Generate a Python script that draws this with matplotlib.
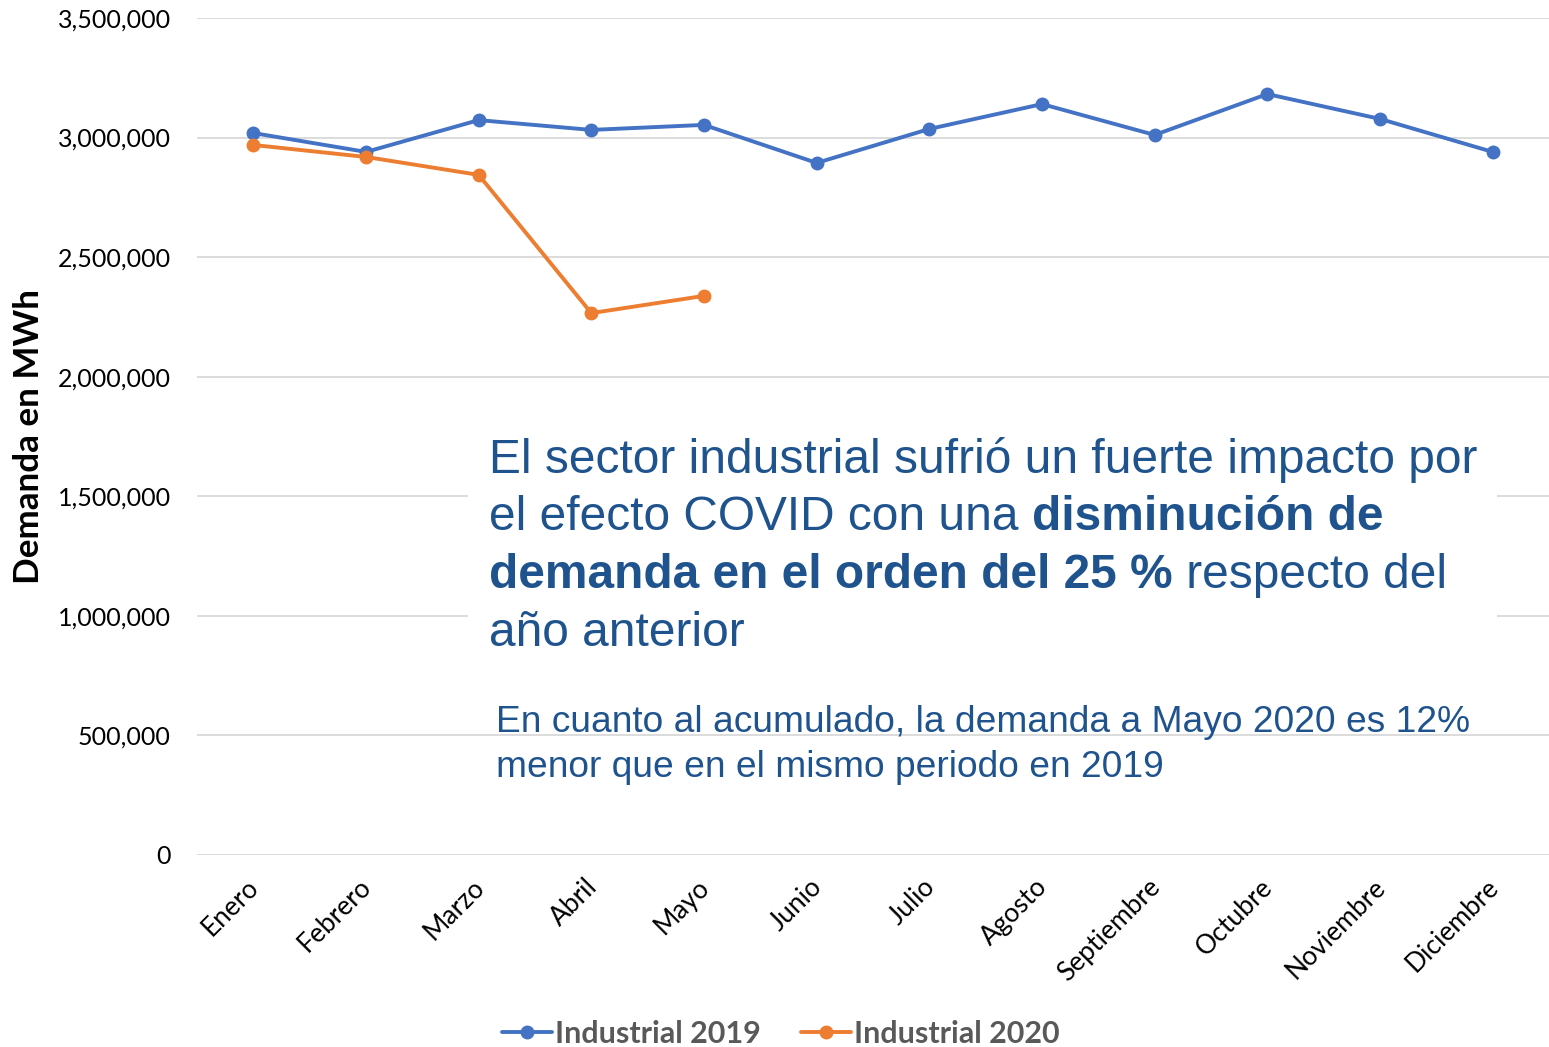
import matplotlib
matplotlib.use("Agg")
import matplotlib.pyplot as plt
from matplotlib.patches import Rectangle
from matplotlib.ticker import FuncFormatter

months = ["Enero", "Febrero", "Marzo", "Abril", "Mayo", "Junio", "Julio",
          "Agosto", "Septiembre", "Octubre", "Noviembre", "Diciembre"]
ind_2019 = [3019000, 2940000, 3073000, 3032000, 3053000, 2894000, 3036000,
            3140000, 3011000, 3182000, 3078000, 2940000]
ind_2020 = [2969000, 2919000, 2844000, 2266000, 2338000]
series_names = ["Industrial 2019", "Industrial 2020"]
y_ticks = [0, 500000, 1000000, 1500000, 2000000, 2500000, 3000000, 3500000]

BLUE = "#4472C4"
ORANGE = "#ED7D31"
TXT_BLUE = "#1F538D"

W, H = 1549, 1047
fig = plt.figure(figsize=(W / 100, H / 100), dpi=100)
ax = fig.add_axes([197 / W, 1 - 855 / H, (W - 197) / W, (855 - 18) / H])

x19 = list(range(len(ind_2019)))
x20 = list(range(len(ind_2020)))
ax.plot(x19, ind_2019, color=BLUE, lw=2.8, marker="o", ms=9, label=series_names[0],
        solid_capstyle="round", zorder=3)
ax.plot(x20, ind_2020, color=ORANGE, lw=2.8, marker="o", ms=9, label=series_names[1],
        solid_capstyle="round", zorder=3)

ax.set_xlim(-0.5, len(months) - 0.5)
ax.set_ylim(0, 3500000)
ax.set_yticks(y_ticks)
ax.yaxis.set_major_formatter(FuncFormatter(lambda v, p: f"{int(v):,}"))
ax.set_xticks(x19)
ax.set_xticklabels(months, rotation=45, ha="right", va="center_baseline",
                   rotation_mode="anchor", fontfamily="Lato", fontsize=19)
for lab in ax.get_yticklabels():
    lab.set_fontfamily("Lato")
    lab.set_fontsize(18)
ax.tick_params(axis="both", length=0)
ax.tick_params(axis="y", pad=19)
ax.tick_params(axis="x", pad=19)

ax.grid(axis="y", color="#D9D9D9", lw=1.3)
ax.set_axisbelow(True)
for s in ax.spines.values():
    s.set_visible(False)

fig.text(29 / W, 1 - 437 / H, "Demanda en MWh", rotation=90, ha="center", va="center",
         fontfamily="Lato", fontweight="bold", fontsize=25.2, color="black")

# white box behind the main annotation
ax.add_patch(Rectangle((468 / W, 1 - 662 / H), (1497 - 468) / W, (662 - 428) / H,
                       transform=fig.transFigure, facecolor="white", edgecolor="none",
                       zorder=1, clip_on=False))

# Main annotation with mixed bold segments
big = 34.5
lines = [
    [("El sector industrial sufrió un fuerte impacto por", "normal")],
    [("el efecto COVID con una ", "normal"), ("disminución de", "bold")],
    [("demanda en el orden del 25 %", "bold"), (" respecto del", "normal")],
    [("año anterior", "normal")],
]
baselines = [473, 530.5, 588, 645.5]
x0 = 489
fig.canvas.draw()
renderer = fig.canvas.get_renderer()
for segs, yb in zip(lines, baselines):
    xpix = x0
    for txt, wt in segs:
        t = fig.text(xpix / W, 1 - yb / H, txt, ha="left", va="baseline",
                     fontfamily="Liberation Sans", fontweight=wt, fontsize=big,
                     color=TXT_BLUE, zorder=5)
        probe = txt.replace(" ", "\u00a0")
        t.set_text(probe)
        bb = t.get_window_extent(renderer)
        t.set_text(txt)
        xpix += bb.width

small = 26.7
fig.text(496 / W, 1 - 732 / H, "En cuanto al acumulado, la demanda a Mayo 2020 es 12%",
         ha="left", va="baseline", fontfamily="Liberation Sans", fontsize=small,
         color=TXT_BLUE)
fig.text(496 / W, 1 - 777 / H, "menor que en el mismo periodo en 2019",
         ha="left", va="baseline", fontfamily="Liberation Sans", fontsize=small,
         color=TXT_BLUE)

leg = fig.legend(loc="center", bbox_to_anchor=(781 / W, 1 - 1034 / H), ncol=2,
                 frameon=False, handlelength=1.64, handletextpad=0.1, columnspacing=1.3,
                 prop={"family": "Lato", "weight": "bold", "size": 22})
for t in leg.get_texts():
    t.set_color("#595959")

fig.savefig("out.png", dpi=100)
